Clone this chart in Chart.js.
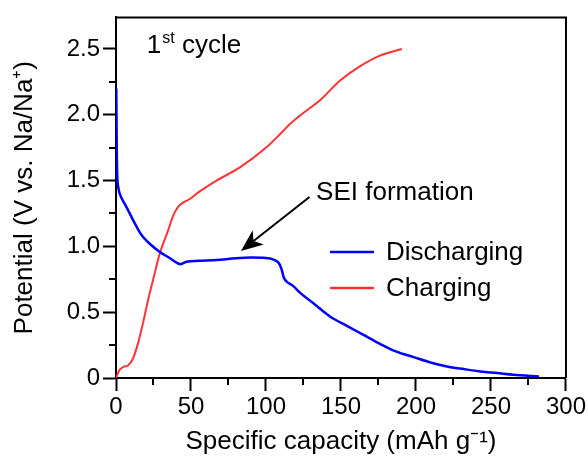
<!DOCTYPE html>
<html>
<head>
<meta charset="utf-8">
<script src="https://cdn.jsdelivr.net/npm/chart.js@4.4.1/dist/chart.umd.min.js"></script>
<style>
  html, body { margin: 0; padding: 0; background: #fff; }
  #wrap { width: 588px; height: 457px; }
</style>
</head>
<body>
<div id="wrap"><canvas id="cv" width="588" height="457"></canvas></div>
<script>
  // first-cycle galvanostatic curves
  var dischargeCap = [0.2, 0.4, 0.6, 0.9, 1.5, 2.5, 4.5, 6.9, 11.4, 17, 22.5, 29, 36, 41.5, 43, 47, 55, 67, 80, 90, 100, 105, 108, 110, 112, 114, 118, 123, 131.6, 142.7, 153.9, 165, 176, 187, 198.4, 209.6, 220.7, 231.8, 243, 254, 265, 282];
  var dischargeV = [2.2, 1.9, 1.65, 1.52, 1.45, 1.40, 1.35, 1.30, 1.20, 1.086, 1.02, 0.96, 0.91, 0.87, 0.865, 0.883, 0.89, 0.896, 0.91, 0.915, 0.912, 0.9, 0.88, 0.84, 0.76, 0.73, 0.70, 0.645, 0.568, 0.467, 0.396, 0.328, 0.26, 0.20, 0.159, 0.118, 0.088, 0.068, 0.05, 0.038, 0.025, 0.012];
  var chargeCap = [0, 1, 2.5, 5, 8, 11.4, 14.7, 18, 21.4, 24.7, 29.2, 34.7, 38, 41.4, 45, 49.2, 54.8, 67, 82.6, 100.5, 110, 116, 122.7, 136, 149.4, 162.8, 176, 190.6];
  var chargeV = [0, 0.03, 0.063, 0.085, 0.095, 0.15, 0.265, 0.417, 0.593, 0.745, 0.947, 1.12, 1.23, 1.30, 1.335, 1.36, 1.41, 1.50, 1.60, 1.755, 1.86, 1.93, 1.995, 2.11, 2.26, 2.37, 2.45, 2.50];
  var seriesNames = ['Discharging', 'Charging'];
  var xMinorTicks = [25, 75, 125, 175, 225, 275];
  var yMinorTicks = [0.25, 0.75, 1.25, 1.75, 2.25];

  var FONT = '"Liberation Sans", Arial, sans-serif';

  function toPoints(xs, ys) {
    return xs.map(function (x, i) { return { x: x, y: ys[i] }; });
  }

  var frame = {
    id: 'frame',
    afterDraw: function (chart) {
      var ctx = chart.ctx, a = chart.chartArea;
      var xs = chart.scales.x, ys = chart.scales.y;
      ctx.save();
      ctx.strokeStyle = '#000';
      ctx.lineWidth = 2;
      ctx.beginPath();
      ctx.moveTo(a.left, a.top);
      ctx.lineTo(a.right, a.top);
      ctx.lineTo(a.right, a.bottom);
      ctx.stroke();
      // minor ticks
      ctx.beginPath();
      xMinorTicks.forEach(function (v) {
        var px = Math.round(xs.getPixelForValue(v));
        ctx.moveTo(px, a.bottom);
        ctx.lineTo(px, a.bottom + 7);
      });
      yMinorTicks.forEach(function (v) {
        var py = Math.round(ys.getPixelForValue(v));
        ctx.moveTo(a.left, py);
        ctx.lineTo(a.left - 7, py);
      });
      ctx.stroke();
      ctx.restore();
    }
  };

  var notes = {
    id: 'notes',
    afterDraw: function (chart) {
      var ctx = chart.ctx;
      var xs = chart.scales.x, ys = chart.scales.y;
      ctx.save();
      ctx.fillStyle = '#000';
      ctx.textBaseline = 'alphabetic';

      // "1st cycle"
      var px = xs.getPixelForValue(20.5), py = ys.getPixelForValue(2.47);
      ctx.font = '26px ' + FONT;
      ctx.fillText('1', px, py);
      var w1 = ctx.measureText('1').width;
      ctx.font = '16px ' + FONT;
      ctx.fillText('st', px + w1 + 1, py - 10);
      var w2 = ctx.measureText('st').width;
      ctx.font = '26px ' + FONT;
      ctx.fillText(' cycle', px + w1 + w2 + 1, py);

      // SEI label + arrow
      ctx.font = '26px ' + FONT;
      ctx.fillText('SEI formation', xs.getPixelForValue(133.4), ys.getPixelForValue(1.35));
      var x0 = xs.getPixelForValue(129), y0 = ys.getPixelForValue(1.375);
      var x1 = xs.getPixelForValue(83.3), y1 = ys.getPixelForValue(0.965);
      var ang = Math.atan2(y1 - y0, x1 - x0);
      ctx.strokeStyle = '#000';
      ctx.lineWidth = 2;
      ctx.beginPath();
      ctx.moveTo(x0, y0);
      ctx.lineTo(x1 - 12 * Math.cos(ang), y1 - 12 * Math.sin(ang));
      ctx.stroke();
      ctx.translate(x1, y1);
      ctx.rotate(ang);
      ctx.beginPath();
      ctx.moveTo(0, 0);
      ctx.lineTo(-22, -9);
      ctx.lineTo(-16, 0);
      ctx.lineTo(-22, 9);
      ctx.closePath();
      ctx.fill();
      ctx.restore();

      // legend
      ctx.save();
      ctx.font = '26px ' + FONT;
      ctx.textBaseline = 'middle';
      chart.data.datasets.forEach(function (ds, i) {
        var ly = 252 + i * 36;
        ctx.strokeStyle = ds.borderColor;
        ctx.lineWidth = 2.5;
        ctx.beginPath();
        ctx.moveTo(330, ly);
        ctx.lineTo(374, ly);
        ctx.stroke();
        ctx.fillStyle = '#000';
        ctx.fillText(ds.label, 386, ly + 1);
      });
      ctx.restore();
    }
  };

  new Chart(document.getElementById('cv'), {
    type: 'scatter',
    data: {
      datasets: [
        {
          label: seriesNames[0],
          data: toPoints(dischargeCap, dischargeV),
          showLine: true,
          borderColor: '#0000ff',
          borderWidth: 2.5,
          pointRadius: 0,
          cubicInterpolationMode: 'monotone',
        },
        {
          label: seriesNames[1],
          data: toPoints(chargeCap, chargeV),
          showLine: true,
          borderColor: '#ff3333',
          borderWidth: 2,
          pointRadius: 0,
          cubicInterpolationMode: 'monotone',
        },
      ],
    },
    options: {
      responsive: false,
      animation: false,
      layout: { padding: { top: 16, right: 22, left: 0, bottom: 0 } },
      plugins: {
        legend: { display: false },
        tooltip: { enabled: false },
      },
      scales: {
        x: {
          type: 'linear',
          min: 0,
          max: 300,
          afterFit: function (s) { s.height = 79; },
          ticks: {
            stepSize: 50,
            color: '#000',
            font: { family: FONT, size: 24 },
            padding: 2,
            maxRotation: 0,
          },
          grid: { drawOnChartArea: false, tickLength: 13, tickWidth: 2, tickColor: '#000' },
          border: { color: '#000', width: 2 },
          title: {
            display: true,
            text: 'Specific capacity (mAh g\u207B\u00B9)',
            color: '#000',
            font: { family: FONT, size: 26 },
            padding: { top: 0, bottom: 0 },
          },
        },
        y: {
          type: 'linear',
          min: 0,
          max: 2.74,
          afterFit: function (s) { s.width = 116; },
          ticks: {
            stepSize: 0.5,
            includeBounds: false,
            color: '#000',
            font: { family: FONT, size: 24 },
            padding: 3,
            callback: function (v) { return v === 0 ? '0' : v.toFixed(1); },
          },
          grid: { drawOnChartArea: false, tickLength: 13, tickWidth: 2, tickColor: '#000' },
          border: { color: '#000', width: 2 },
          title: {
            display: true,
            text: 'Potential (V vs. Na/Na\u207A)',
            color: '#000',
            font: { family: FONT, size: 26 },
            padding: { top: 9, bottom: 0 },
          },
        },
      },
    },
    plugins: [frame, notes],
  });
</script>
</body>
</html>
